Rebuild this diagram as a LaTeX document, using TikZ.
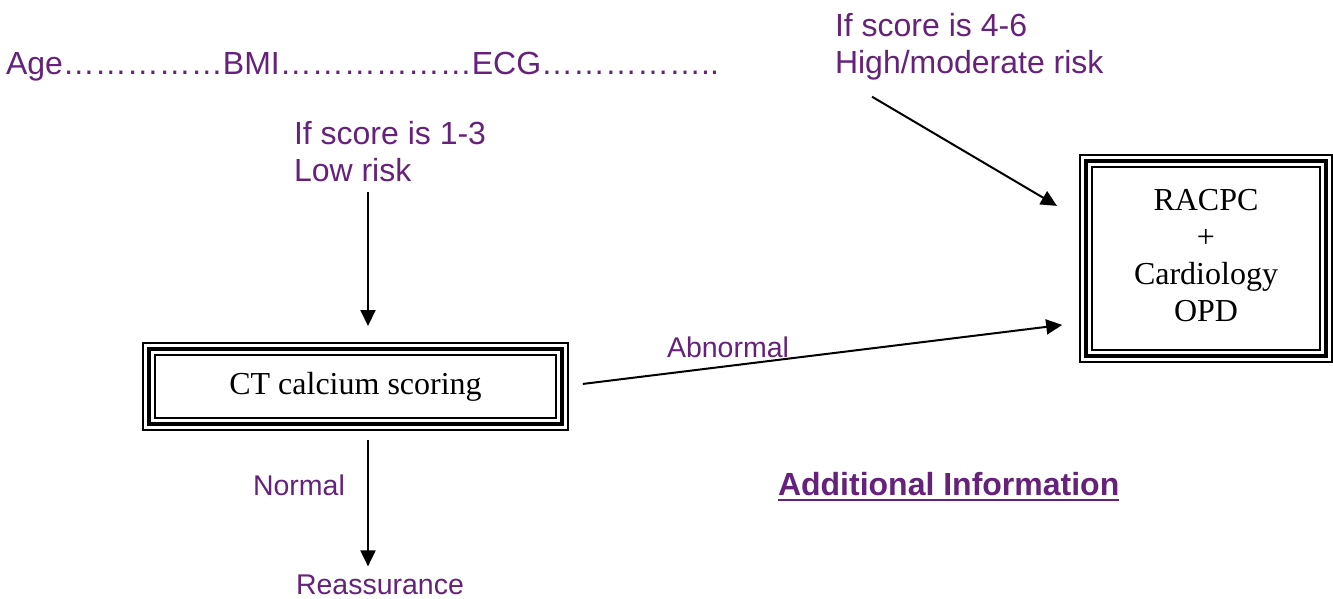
\documentclass[tikz,border=0pt]{standalone}
\usepackage{fontspec}
\setmainfont{Liberation Serif}
\newfontfamily\arialf{Liberation Sans}
\usetikzlibrary{arrows.meta}
\definecolor{purp}{RGB}{102,34,122}
\begin{document}
\begin{tikzpicture}[x=1pt,y=-1pt,
  lbl/.style={font=\arialf\fontsize{32}{37}\selectfont, text=purp, inner sep=0pt, outer sep=0pt, align=left},
  slbl/.style={font=\arialf\fontsize{28.5}{33}\selectfont, text=purp, inner sep=0pt, outer sep=0pt},
  tbox/.style={draw, line width=4.5pt, inner sep=0pt, outer sep=0pt, font=\fontsize{32}{37}\selectfont, align=center},
  thinline/.style={line width=1.4pt},
  arr/.style={line width=2pt, -{Triangle[length=16pt,width=15pt]}}
]
\useasboundingbox (0,0) rectangle (1333,599);

\node[lbl, anchor=base west] (vars) at (6,75) {Age……………BMI………………ECG……………..};
\node[lbl, anchor=base west] (hr) at (835,74) {If score is 4-6\\High/moderate risk};
\node[lbl, anchor=base west] (lr) at (294,182) {If score is 1-3\\Low risk};

\node[tbox, minimum width=413pt, minimum height=75pt] (ct) at (355.5,386.5) {CT calcium scoring};
\draw[thinline] ([shift={(-6pt,6pt)}]ct.north west) rectangle ([shift={(6pt,-6pt)}]ct.south east);
\draw[thinline] ([shift={(6pt,-6pt)}]ct.north west) rectangle ([shift={(-6pt,6pt)}]ct.south east);

\node[tbox, minimum width=240pt, minimum height=195pt] (rac) at (1206,258.5) {};
\node[font=\fontsize{32}{37}\selectfont, align=center, inner sep=0pt, anchor=base] (ractxt) at (1206,321.5) {RACPC\\+\\Cardiology\\OPD};
\draw[thinline] ([shift={(-6pt,6pt)}]rac.north west) rectangle ([shift={(6pt,-6pt)}]rac.south east);
\draw[thinline] ([shift={(6pt,-6pt)}]rac.north west) rectangle ([shift={(-6pt,6pt)}]rac.south east);

\node[slbl, anchor=base west] (ab) at (667,357) {Abnormal};
\node[slbl, anchor=base west] (nm) at (253,495) {Normal};
\node[slbl, anchor=base west] (re) at (296,594) {Reassurance};
\node[lbl, font=\arialf\bfseries\fontsize{32}{37}\selectfont, anchor=base west] (ai) at (778,495) {Additional Information};
\draw[purp, line width=2.8pt] ([yshift=-5pt]ai.base west) -- ([yshift=-5pt]ai.base east);

\coordinate (xa) at (368,0);
\draw[arr, shorten <=10pt, shorten >=23pt] (lr.south -| xa) -- (ct.north -| xa);
\draw[arr, shorten <=31.6pt, shorten >=33.7pt] ([xshift=9.8pt]hr.south west) -- ([yshift=-62pt]rac.north west);
\draw[arr, shorten <=21pt, shorten >=24pt] (ct.east) -- ([yshift=34pt]rac.south west);
\draw[arr, shorten <=16pt, shorten >=8pt] (ct.south -| xa) -- (re.north -| xa);
\end{tikzpicture}
\end{document}
